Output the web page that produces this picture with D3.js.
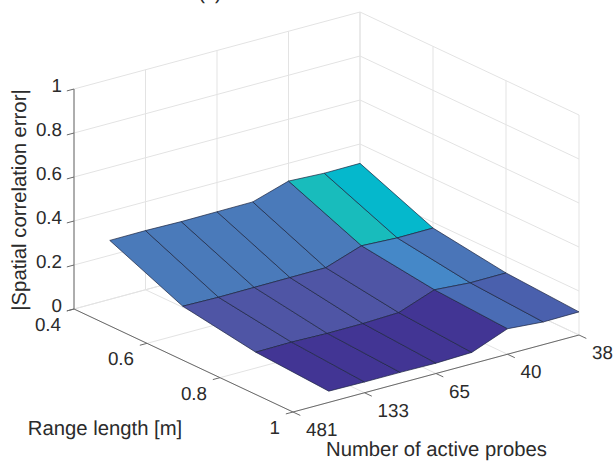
<!DOCTYPE html>
<html><head><meta charset="utf-8">
<script src="https://cdn.jsdelivr.net/npm/d3@7"></script>
<style>html,body{margin:0;padding:0;background:#fff;overflow:hidden}svg{display:block}text{font-family:"Liberation Sans",Arial,sans-serif;fill:#2b2b2b;text-rendering:geometricPrecision}</style>
</head><body><svg id="c" width="613" height="462"></svg>
<script>
// Data
const rangeLengths = [0.4, 0.6, 0.8, 1];
const probeSlots = [1, 2, 3, 4, 5, 6, 7, 8];
const errorAt04 = [0.268, 0.269, 0.266, 0.267, 0.268, 0.319, 0.311, 0.312];
const errorAt06 = [0.125, 0.122, 0.123, 0.124, 0.125, 0.181, 0.173, 0.174];
const errorAt08 = [0.072, 0.074, 0.070, 0.071, 0.077, 0.137, 0.125, 0.126];
const errorAt10 = [0.051, 0.049, 0.049, 0.047, 0.052, 0.116, 0.103, 0.105];
const faceLevel04 = [0.25, 0.25, 0.25, 0.25, 0.25, 0.68, 0.62];
const faceLevel06 = [0.12, 0.12, 0.12, 0.12, 0.12, 0.30, 0.235];
const faceLevel08 = [0.02, 0.02, 0.02, 0.02, 0.02, 0.20, 0.16];
const probeTickSlots = [0, 2, 4, 6, 8];
const probeTickLabels = ["481", "133", "65", "40", "38"];
const rangeTicks = [0.4, 0.6, 0.8, 1];
const rangeTickLabels = ["0.4", "0.6", "0.8", "1"];
const errorTicks = [0, 0.2, 0.4, 0.6, 0.8, 1];
const errorTickLabels = ["0", "0.2", "0.4", "0.6", "0.8", "1"];
const levelStops = [0.02, 0.12, 0.16, 0.20, 0.235, 0.25, 0.30, 0.62, 0.68];
const levelColors = ["#423594", "#4f55a5", "#4a60ad", "#4a6cb5", "#4a75b8", "#4a7aba", "#4588c8", "#05b8cc", "#18bcbc"];

const errorRows = [errorAt04, errorAt06, errorAt08, errorAt10];
const levelRows = [faceLevel04, faceLevel06, faceLevel08];

// Oblique projection: each data axis contributes a screen vector
const origin = [74, 309];
const probeX = d3.scaleLinear().domain([0, 8]).range([0, 286]);
const probeY = d3.scaleLinear().domain([0, 8]).range([0, -77]);
const rangeX = d3.scaleLinear().domain([0.4, 1]).range([0, 219]);
const rangeY = d3.scaleLinear().domain([0.4, 1]).range([0, 103]);
const errZ = d3.scaleLinear().domain([0, 1]).range([0, -220]);
const project = (p, r, z) => [
  origin[0] + probeX(p) + rangeX(r),
  origin[1] + probeY(p) + rangeY(r) + errZ(z)
];
const color = d3.scaleLinear().domain(levelStops).range(levelColors);
const line = d3.line();
const poly = d3.line().curve(d3.curveLinearClosed);

const svg = d3.select("#c");
const grid = svg.append("g").attr("fill", "none").attr("stroke", "#e3e3e3").attr("stroke-width", 1);
const seg = (g, a, b) => g.append("path").attr("d", line([a, b]));

// Back walls and floor
errorTicks.forEach(z => {
  seg(grid, project(0, 0.4, z), project(8, 0.4, z));
  seg(grid, project(8, 0.4, z), project(8, 1, z));
});
probeTickSlots.forEach(p => {
  seg(grid, project(p, 0.4, 0), project(p, 0.4, 1));
  seg(grid, project(p, 0.4, 0), project(p, 1, 0));
});
rangeTicks.forEach(r => {
  seg(grid, project(8, r, 0), project(8, r, 1));
  seg(grid, project(0, r, 0), project(8, r, 0));
});

// Axis rulers and ticks
const axis = svg.append("g").attr("fill", "none").attr("stroke", "#6a6a6a").attr("stroke-width", 1);
seg(axis, project(0, 0.4, 0), project(0, 0.4, 1));
seg(axis, project(0, 0.4, 0), project(0, 1, 0));
seg(axis, project(0, 1, 0), project(8, 1, 0));
errorTicks.forEach(z => seg(axis, project(0, 0.4, z), project(-0.2, 0.4, z)));
rangeTicks.forEach(r => seg(axis, project(0, r, 0), project(-0.2, r, 0)));
probeTickSlots.forEach(p => seg(axis, project(p, 1, 0), project(p, 1.02, 0)));

// Surface
const faces = svg.append("g").attr("stroke", "#1c2540").attr("stroke-width", 0.7).attr("stroke-linejoin", "round");
rangeLengths.slice(0, -1).forEach((r, ri) => {
  const r2 = rangeLengths[ri + 1];
  probeSlots.slice(0, -1).forEach((p, pi) => {
    const p2 = probeSlots[pi + 1];
    faces.append("path")
      .attr("fill", color(levelRows[ri][pi]))
      .attr("d", poly([
        project(p, r, errorRows[ri][pi]),
        project(p2, r, errorRows[ri][pi + 1]),
        project(p2, r2, errorRows[ri + 1][pi + 1]),
        project(p, r2, errorRows[ri + 1][pi])
      ]));
  });
});

// Text
const TICK_FS = 18.8;
const LABEL_FS = 20.3;
const txt = (s, x, y, anchor, fs) => svg.append("text").text(s).attr("x", x).attr("y", y)
  .attr("text-anchor", anchor).attr("dominant-baseline", "central").style("font-size", fs + "px");
errorTicks.forEach((z, i) => {
  const p = project(0, 0.4, z);
  txt(errorTickLabels[i], p[0] - 12, p[1] - 3.5, "end", TICK_FS);
});
rangeTicks.forEach((r, i) => {
  const p = project(0, r, 0);
  txt(rangeTickLabels[i], p[0] - 13, p[1] + 15.5, "end", TICK_FS);
});
probeTickSlots.forEach((s, i) => {
  const p = project(s, 1, 0);
  txt(probeTickLabels[i], p[0] + 13, p[1] + 17.5, "start", TICK_FS);
});
txt("Range length [m]", 105, 429, "middle", LABEL_FS);
txt("Number of active probes", 436.5, 450, "middle", LABEL_FS);
svg.append("text").text("|Spatial correlation error|")
  .attr("transform", "translate(20,200) rotate(-90)")
  .attr("text-anchor", "middle").attr("dominant-baseline", "central").style("font-size", LABEL_FS + "px");
svg.append("text").text("(c)").attr("x", 210).attr("y", -1).attr("text-anchor", "middle").style("font-size", "20px");
</script></body></html>
